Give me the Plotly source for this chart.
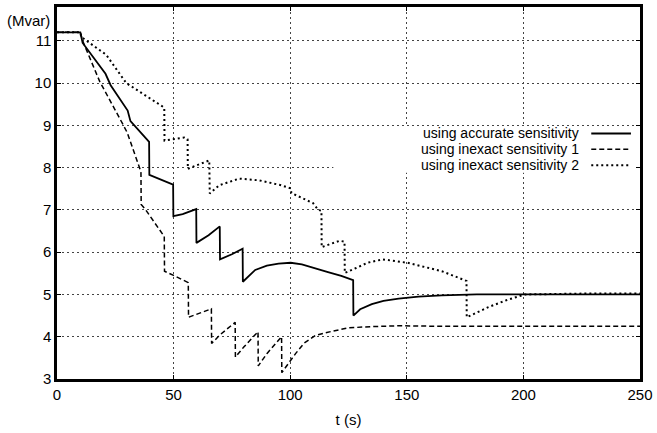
import plotly.graph_objects as go

# ---- data ----
t_acc = [0, 10, 11, 20.8, 23, 30.3, 31.5, 39.5, 39.6, 45, 49.8, 49.9, 53.9, 59.7, 59.8, 65, 69.8, 69.9, 75, 79.6, 79.7,
         85, 90, 95, 100.2, 105, 109.1, 116.2, 121.9, 127, 127.1, 130, 135, 140, 146.5, 155, 165, 180, 200, 250]
y_acc = [11.2, 11.2, 10.95, 10.22, 9.95, 9.35, 9.1, 8.61, 7.83, 7.7, 7.6, 6.85, 6.9, 7.02, 6.22, 6.4, 6.61, 5.83, 5.95,
         6.08, 5.3, 5.58, 5.68, 5.73, 5.75, 5.71, 5.65, 5.53, 5.44, 5.34, 4.5, 4.65, 4.77, 4.85, 4.9, 4.95, 4.98, 5.0, 5.0, 5.0]

t_in1 = [0, 10, 11, 18.3, 28.5, 30.1, 35.5, 36, 36.1, 37.8, 46, 46.1, 50, 56.3, 56.4, 61, 66.2, 66.3, 70, 76.4, 76.5,
         80, 86.2, 86.3, 90, 96.3, 96.4, 99, 102.3, 106, 110.8, 118, 125, 135, 146.5, 160, 250]
y_in1 = [11.2, 11.2, 11.0, 10.04, 9.0, 8.83, 7.98, 7.88, 7.13, 7.02, 6.37, 5.55, 5.45, 5.28, 4.46, 4.56, 4.66, 3.84, 4.05,
         4.34, 3.52, 3.75, 4.12, 3.31, 3.6, 4.0, 3.15, 3.35, 3.6, 3.85, 4.03, 4.13, 4.21, 4.24, 4.26, 4.25, 4.25]

t_in2 = [0, 10, 10.4, 21.1, 29.7, 36.8, 46, 46.1, 50, 54.6, 56, 56.1, 59.6, 65.3, 65.5, 69.5, 78, 86.6, 95.7, 100.2,
         100.5, 106, 109.8, 112, 113.4, 113.5, 118, 121.2, 123.3, 123.4, 128, 133.2, 139.6, 150.3, 165, 175.6, 175.7,
         185, 193, 200.6, 225, 250]
y_in2 = [11.2, 11.2, 11.09, 10.67, 10.0, 9.75, 9.42, 8.64, 8.68, 8.71, 8.67, 7.97, 8.05, 8.17, 7.39, 7.58, 7.74, 7.7,
         7.59, 7.51, 7.4, 7.25, 7.16, 7.0, 6.98, 6.12, 6.2, 6.27, 6.25, 5.51, 5.62, 5.75, 5.83, 5.75, 5.55, 5.32, 4.46,
         4.7, 4.87, 5.0, 5.02, 5.02]

series_names = ["using accurate sensitivity", "using inexact sensitivity 1", "using inexact sensitivity 2"]
x_ticks = [0, 50, 100, 150, 200, 250]
y_ticks = [3, 4, 5, 6, 7, 8, 9, 10, 11]

FONT = "Liberation Sans, Arial, sans-serif"
dashes = ["solid", "5px,3px", "2px,3px"]
widths = [1.8, 1.5, 2.0]

fig = go.Figure()
for t, y, name, d, w in zip([t_acc, t_in1, t_in2], [y_acc, y_in1, y_in2], series_names, dashes, widths):
    fig.add_trace(go.Scatter(x=t, y=y, mode="lines", name=name, showlegend=False,
                             line=dict(color="black", width=w, dash=d)))

# legend (gnuplot style: text right-aligned, sample to the right)
rows_y = [0.66, 0.6173, 0.5747]
for name, d, w, ry in zip(series_names, dashes, widths, rows_y):
    fig.add_annotation(x=0.8976, y=ry, xref="paper", yref="paper", text=name, showarrow=False,
                       xanchor="right", yanchor="middle", borderpad=0,
                       font=dict(family=FONT, size=14, color="black"))
    fig.add_shape(type="line", xref="paper", yref="paper", x0=0.9164, x1=0.9845, y0=ry, y1=ry,
                  line=dict(color="black", width=w, dash=d))

# blank area behind legend (grid hidden there)
fig.add_shape(type="rect", xref="x", yref="y", x0=118.5, x1=250, y0=7.88, y1=8.96,
              fillcolor="white", line=dict(width=0), layer="between")

fig.add_annotation(x=-0.0087, y=0.963, xref="paper", yref="paper", text="(Mvar)", showarrow=False,
                   xanchor="right", yanchor="middle", font=dict(family=FONT, size=15, color="black"))

axis_common = dict(showline=True, linecolor="black", linewidth=2.5, mirror="ticks",
                   ticks="inside", ticklen=4, tickcolor="black", tickwidth=1,
                   showgrid=True, gridcolor="#444", gridwidth=1, griddash="2px,3px",
                   zeroline=False, tickfont=dict(family=FONT, size=15, color="black"))

fig.update_xaxes(range=[0, 250], tickvals=x_ticks, title=dict(text="t (s)", standoff=13,
                 font=dict(family=FONT, size=15, color="black")), **axis_common)
fig.update_yaxes(range=[3, 11.8], tickvals=y_ticks, **axis_common)

fig.update_layout(width=657, height=433, margin=dict(l=57, r=13, t=4, b=54),
                  paper_bgcolor="white", plot_bgcolor="white",
                  font=dict(family=FONT, size=15, color="black"))

fig.write_html("out.html")
